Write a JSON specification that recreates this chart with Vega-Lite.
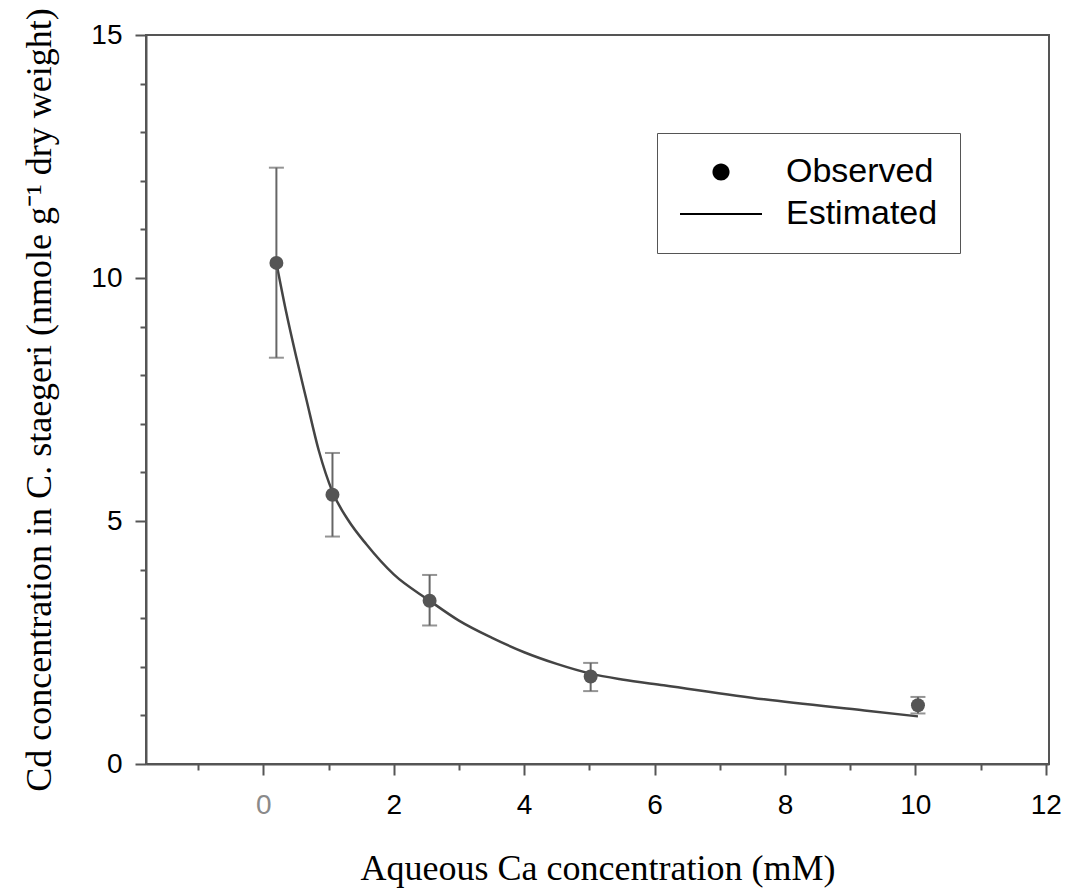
{
  "$schema": "https://vega.github.io/schema/vega-lite/v6.json",
  "autosize": {"type": "none"},
  "padding": {"left": 146, "top": 35, "right": 19, "bottom": 132},
  "width": 903,
  "height": 729,
  "background": "white",
  "config": {
    "view": {"stroke": "#555555", "strokeWidth": 2},
    "axis": {
      "grid": false,
      "domainColor": "#555555",
      "domainWidth": 2,
      "tickColor": "#555555",
      "tickWidth": 2,
      "labelFont": "Liberation Sans",
      "labelFontSize": 28,
      "labelColor": "black",
      "titleFont": "Liberation Serif",
      "titleFontSize": 36,
      "titleFontWeight": "normal",
      "titleColor": "black"
    }
  },
  "datasets": {
    "obs": [
      {"ca": 0.2, "cd": 10.31, "lo": 8.36, "hi": 12.27},
      {"ca": 1.06, "cd": 5.54, "lo": 4.68, "hi": 6.4},
      {"ca": 2.55, "cd": 3.36, "lo": 2.85, "hi": 3.89},
      {"ca": 5.02, "cd": 1.8, "lo": 1.5, "hi": 2.08},
      {"ca": 10.04, "cd": 1.21, "lo": 1.04, "hi": 1.38}
    ],
    "fit": [
      {"ca": 0.2, "cd": 10.31},
      {"ca": 0.35, "cd": 9.3},
      {"ca": 0.5, "cd": 8.4},
      {"ca": 0.66, "cd": 7.5},
      {"ca": 0.85, "cd": 6.45},
      {"ca": 1.06, "cd": 5.6},
      {"ca": 1.3, "cd": 5.02},
      {"ca": 1.58, "cd": 4.52},
      {"ca": 2.0, "cd": 3.9},
      {"ca": 2.55, "cd": 3.36},
      {"ca": 3.0, "cd": 2.95},
      {"ca": 3.5, "cd": 2.6},
      {"ca": 4.0, "cd": 2.3},
      {"ca": 4.5, "cd": 2.06},
      {"ca": 5.02, "cd": 1.86},
      {"ca": 5.5, "cd": 1.74},
      {"ca": 6.14, "cd": 1.62},
      {"ca": 7.68, "cd": 1.33},
      {"ca": 9.22, "cd": 1.1},
      {"ca": 10.04, "cd": 0.98}
    ],
    "legend": []
  },
  "layer": [
    {
      "data": {"name": "fit"},
      "mark": {"type": "line", "color": "#444444", "strokeWidth": 2.5, "interpolate": "monotone"},
      "encoding": {
        "x": {
          "field": "ca", "type": "quantitative",
          "scale": {"domain": [-1.8, 12.05], "nice": false, "zero": false},
          "axis": {
            "title": "Aqueous Ca concentration (mM)",
            "values": [-1, 0, 1, 2, 3, 4, 5, 6, 7, 8, 9, 10, 11, 12],
            "format": "d",
            "labelExpr": "datum.value % 2 === 0 ? datum.label : ''",
            "labelColor": {"condition": {"test": "datum.value === 0", "value": "#8a8a8a"}, "value": "black"},
            "tickSize": {"condition": {"test": "datum.value % 2 === 0", "value": 11}, "value": 6},
            "labelPadding": 16,
            "titlePadding": 32,
            "labelFlush": false,
            "labelOverlap": false
          }
        },
        "y": {
          "field": "cd", "type": "quantitative",
          "scale": {"domain": [0, 15], "nice": false},
          "axis": {
            "title": "Cd concentration in C. staegeri (nmole g⁻¹ dry weight)",
            "values": [0, 1, 2, 3, 4, 5, 6, 7, 8, 9, 10, 11, 12, 13, 14, 15],
            "format": "d",
            "labelExpr": "datum.value % 5 === 0 ? datum.label : ''",
            "tickSize": {"condition": {"test": "datum.value % 5 === 0", "value": 11}, "value": 6},
            "labelPadding": 13,
            "titlePadding": 32,
            "labelFlush": false,
            "labelOverlap": false
          }
        }
      }
    },
    {
      "data": {"name": "obs"},
      "mark": {"type": "rule", "color": "#666666", "strokeWidth": 2},
      "encoding": {
        "x": {"field": "ca", "type": "quantitative"},
        "y": {"field": "lo", "type": "quantitative"},
        "y2": {"field": "hi"}
      }
    },
    {
      "data": {"name": "obs"},
      "mark": {"type": "tick", "orient": "horizontal", "color": "#666666", "size": 15, "thickness": 2},
      "encoding": {
        "x": {"field": "ca", "type": "quantitative"},
        "y": {"field": "lo", "type": "quantitative"}
      }
    },
    {
      "data": {"name": "obs"},
      "mark": {"type": "tick", "orient": "horizontal", "color": "#666666", "size": 15, "thickness": 2},
      "encoding": {
        "x": {"field": "ca", "type": "quantitative"},
        "y": {"field": "hi", "type": "quantitative"}
      }
    },
    {
      "data": {"name": "obs"},
      "mark": {"type": "point", "filled": true, "shape": "circle", "color": "#555555", "opacity": 1, "size": 195},
      "encoding": {
        "x": {"field": "ca", "type": "quantitative"},
        "y": {"field": "cd", "type": "quantitative"}
      }
    },
    {
      "data": {"name": "legend"},
      "mark": {"type": "point", "filled": true, "color": "black", "opacity": 1, "size": 900},
      "encoding": {
        "x": {"field": "ca", "type": "quantitative"},
        "y": {"field": "cd", "type": "quantitative"},
        "shape": {
          "field": "series", "type": "nominal",
          "scale": {
            "domain": ["Observed", "Estimated"],
            "range": ["M0,-0.57A0.57,0.57,0,1,1,0,0.57A0.57,0.57,0,1,1,0,-0.57Z", "M-2.733,-0.07L2.733,-0.07L2.733,0.07L-2.733,0.07Z"]
          },
          "legend": {
            "title": null,
            "orient": "none",
            "legendX": 511,
            "legendY": 98,
            "padding": 22,
            "strokeColor": "#555555",
            "symbolSize": 900,
            "symbolFillColor": "black",
            "symbolOpacity": 1,
            "symbolOffset": 25,
            "labelFont": "Liberation Sans",
            "labelFontSize": 34,
            "labelColor": "black",
            "labelOffset": 48,
            "labelLimit": 400,
            "rowPadding": 8
          }
        }
      }
    }
  ]
}
